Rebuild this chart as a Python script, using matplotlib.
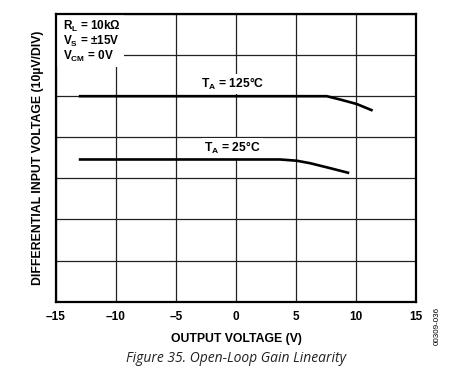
import matplotlib
matplotlib.use("Agg")
import matplotlib.pyplot as plt
from matplotlib.patches import Rectangle

plt.rcParams['font.family'] = ['Liberation Sans', 'DejaVu Sans']
plt.rcParams['mathtext.default'] = 'regular'

# output voltage (V) vs differential input voltage (divisions of 10uV)
x_125 = [-13.1, -10, -5, 0, 5, 7.56, 8.67, 10.06, 11.39]
y_125 = [5.0, 5.0, 5.0, 5.0, 5.0, 5.0, 4.92, 4.81, 4.65]
x_25 = [-13.1, -10, -5, 0, 3.67, 5.06, 6.17, 7.83, 9.44]
y_25 = [3.46, 3.46, 3.46, 3.46, 3.46, 3.43, 3.37, 3.25, 3.13]

xticks = [-15, -10, -5, 0, 5, 10, 15]
xticklabels = ['\u201315', '\u201310', '\u20135', '0', '5', '10', '15']
yticks = [0, 1, 2, 3, 4, 5, 6, 7]

fig = plt.figure(figsize=(4.57, 3.75), dpi=100)
ax = fig.add_axes([0.1225, 0.1955, 0.7877, 0.7672])

ax.plot(x_125, y_125, color='black', lw=1.9, solid_capstyle='butt', zorder=3)
ax.plot(x_25, y_25, color='black', lw=1.9, solid_capstyle='butt', zorder=3)

ax.set_xlim(-15, 15)
ax.set_ylim(0, 7)
ax.set_xticks(xticks)
ax.set_xticklabels(xticklabels, fontsize=8.5, fontweight='bold')
ax.set_yticks(yticks)
ax.set_yticklabels([])
ax.tick_params(length=0, pad=7)
ax.grid(True, color='#222222', lw=0.9)
ax.set_axisbelow(True)
for s in ax.spines.values():
    s.set_linewidth(1.6)

# white box behind the conditions text
ax.add_patch(Rectangle((0, 1 - 0.184), 0.189, 0.184, transform=ax.transAxes,
                       facecolor='white', edgecolor='none', zorder=2))
cond = ['R$_L$ = 10k\u03a9', 'V$_S$ = \u00b115V', 'V$_{CM}$ = 0V']
for i, t in enumerate(cond):
    ax.text(0.02, 0.955 - i * 0.051, t, transform=ax.transAxes, fontsize=8.5,
            fontweight='bold', va='center', ha='left', zorder=4)

lbl_box = dict(facecolor='white', edgecolor='none', pad=1.5)
ax.text(-0.3, 5.3, 'T$_A$ = 125\u00b0C', fontsize=8.7, fontweight='bold',
        ha='center', va='center', zorder=4, bbox=lbl_box)
ax.text(-0.3, 3.73, 'T$_A$ = 25\u00b0C', fontsize=8.7, fontweight='bold',
        ha='center', va='center', zorder=4, bbox=lbl_box)

ax.set_xlabel('OUTPUT VOLTAGE (V)', fontsize=8.8, fontweight='bold', labelpad=7)
ax.set_ylabel('DIFFERENTIAL INPUT VOLTAGE (10\u00b5V/DIV)', fontsize=8.8,
              fontweight='bold')
ax.yaxis.set_label_coords(-0.033, 0.5)

fig.text(437 / 457, 1 - 326 / 375, '00309-036', rotation=90, fontsize=5.8,
         ha='center', va='center')
fig.text(236 / 457, 1 - 359 / 375, 'Figure 35. Open-Loop Gain Linearity',
         family=['Open Sans', 'DejaVu Sans'], style='italic', fontsize=10,
         ha='center', va='center', color='#222222')

fig.savefig('out.png', dpi=100)
